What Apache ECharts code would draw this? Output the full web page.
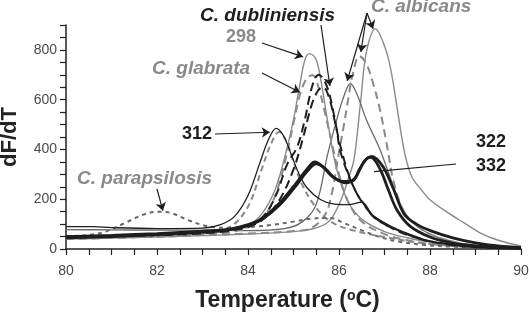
<!DOCTYPE html>
<html>
<head>
<meta charset="utf-8">
<script src="https://cdn.jsdelivr.net/npm/echarts@6/dist/echarts.min.js"></script>
<style>
html, body { margin: 0; padding: 0; background: #fff; }
#chart { width: 529px; height: 318px; }
</style>
</head>
<body>
<div id="chart"></div>
<script>
// melt curves, [temperature, dF/dT]
var paraps = [[80,52],[80.5,56],[80.9,72],[81.3,105],[81.7,138],[82,150],[82.3,145],[82.7,115],[83.1,92],[83.5,85],[84,88],[84.5,96],[85,110],[85.4,122],[85.8,125],[86.1,105],[86.5,75],[86.9,48],[87.3,30],[87.9,16],[88.5,9],[89,6],[90,3]];
var c312Black = [[80,90],[80.6,90],[81,86],[82,82],[83,84],[83.4,98],[83.7,130],[84,215],[84.25,340],[84.45,440],[84.62,485],[84.78,455],[84.95,380],[85.1,310],[85.3,245],[85.6,198],[85.9,180],[86.2,178],[86.5,188],[86.75,135],[87.27,80],[87.7,50],[88,32],[88.6,16],[89.3,7],[90,3]];
var c312Gray = [[80,48],[81,52],[82,58],[83,66],[83.6,88],[84,170],[84.3,320],[84.5,420],[84.68,470],[84.85,430],[85,350],[85.2,255],[85.5,165],[85.8,112],[86.2,80],[87,48],[88,20],[89,8],[90,3]];
var s298 = [[80,45],[81,50],[82,55],[83,62],[83.6,74],[84,95],[84.3,140],[84.6,240],[84.85,400],[85,520],[85.12,640],[85.25,760],[85.35,785],[85.45,775],[85.52,750],[85.6,680],[85.7,570],[85.78,480],[85.95,320],[86.2,190],[86.5,120],[87,70],[87.5,45],[88,28],[89,10],[90,3]];
var glabrata = [[80,40],[82,50],[83,58],[83.8,75],[84.3,120],[84.6,215],[84.85,380],[85,505],[85.15,625],[85.3,688],[85.42,698],[85.55,650],[85.7,540],[85.85,420],[86,300],[86.2,190],[86.5,110],[87,60],[87.5,35],[88,20],[89,8],[90,2]];
var dublinA = [[80,50],[82,58],[83,66],[83.8,82],[84.3,125],[84.6,210],[84.86,340],[85.08,410],[85.25,520],[85.35,610],[85.45,675],[85.55,700],[85.65,685],[85.76,640],[85.85,574],[85.95,481],[86.02,400],[86.2,300],[86.4,220],[86.55,180],[86.75,130],[87,100],[87.3,75],[87.7,45],[88,30],[88.5,15],[89,7],[90,2]];
var dublinB = [[80,46],[82,55],[83,63],[83.8,80],[84.3,115],[84.7,200],[85,320],[85.2,440],[85.4,580],[85.55,640],[85.65,650],[85.78,610],[85.9,520],[86.05,400],[86.25,280],[86.5,190],[86.8,125],[87.2,80],[87.7,45],[88.2,25],[89,8],[90,2]];
var albicansA = [[80,40],[81,44],[82,48],[83,54],[84,60],[85,70],[85.5,85],[85.8,115],[86.05,200],[86.2,280],[86.33,360],[86.48,600],[86.6,790],[86.8,885],[87.03,800],[87.16,700],[87.3,540],[87.45,380],[87.6,290],[87.8,240],[88,198],[88.4,145],[88.75,105],[89.1,65],[89.5,35],[90,12]];
var albicansB = [[80,42],[82,50],[83,56],[84,62],[85,72],[85.4,85],[85.7,140],[85.85,230],[86,390],[86.1,490],[86.2,600],[86.3,700],[86.45,775],[86.6,745],[86.75,665],[86.9,560],[87.05,420],[87.2,270],[87.4,160],[87.6,110],[88,60],[88.5,30],[89,14],[90,4]];
var albicansC = [[80,78],[81,77],[82,76],[83,76],[84,74],[84.8,82],[85.2,110],[85.5,180],[85.75,380],[85.95,520],[86.1,610],[86.25,665],[86.4,620],[86.6,520],[86.9,400],[87.1,300],[87.35,180],[87.6,110],[88,60],[88.5,30],[89,14],[90,4]];
var s322 = [[80,50],[81,55],[82,62],[83,72],[83.6,80],[84,98],[84.3,122],[84.7,186],[85.07,267],[85.3,322],[85.47,350],[85.65,330],[85.85,292],[86.1,272],[86.3,274],[86.45,320],[86.6,362],[86.7,368],[86.9,322],[87.08,240],[87.27,158],[87.56,92],[88,48],[88.44,26],[89,12],[89.5,6],[90,3]];
var s332 = [[80,45],[81,50],[82,58],[83,68],[83.6,78],[84,95],[84.3,118],[84.7,178],[85.07,258],[85.3,312],[85.5,342],[85.7,322],[85.9,285],[86.15,266],[86.35,285],[86.55,350],[86.72,372],[86.97,330],[87.2,240],[87.43,141],[87.7,100],[88.02,73],[88.5,45],[89,25],[89.5,12],[90,5]];

// axis labels
var xTickLabels = [80, 82, 84, 86, 88, 90];
var yTickLabels = [0, 200, 400, 600, 800];

var FONT = '"Liberation Sans", Arial, sans-serif';
var GRAY = '#8a8a8a';
var BLACK = '#1e1e1e';

function line(name, data, color, width, dash) {
  return {
    name: name,
    type: 'line',
    data: data,
    smooth: 0.35,
    symbol: 'none',
    silent: true,
    lineStyle: { color: color, width: width, type: dash || 'solid' }
  };
}

var myChart = echarts.init(document.getElementById('chart'));

var option = {
  backgroundColor: '#fff',
  animation: false,
  grid: { left: 66, right: 8, top: 25, bottom: 69, containLabel: false, outerBoundsMode: 'none' },
  xAxis: {
    type: 'value',
    min: 80,
    max: 90,
    interval: 0.5,
    name: 'Temperature ({sup|o}C)',
    nameLocation: 'middle',
    nameGap: 40,
    nameTextStyle: {
      color: '#222', fontSize: 23, fontWeight: 'bold', fontFamily: FONT,
      padding: [0, 12, 0, 0],
      rich: { sup: { fontSize: 14, fontWeight: 'bold', fontFamily: FONT, color: '#222', verticalAlign: 'top', padding: [0, 0, 10, 0] } }
    },
    axisLine: { lineStyle: { color: '#222', width: 1.5 } },
    axisTick: { length: 6, lineStyle: { color: '#222', width: 1.2 } },
    splitLine: { show: false },
    axisLabel: {
      color: '#4a4a4a', fontSize: 14, fontFamily: FONT, margin: 15,
      formatter: function (v) { return xTickLabels.indexOf(v) >= 0 ? String(v) : ''; }
    }
  },
  yAxis: {
    type: 'value',
    min: 0,
    max: 900,
    interval: 50,
    name: 'dF/dT',
    nameLocation: 'middle',
    nameGap: 45,
    nameTextStyle: { color: '#222', fontSize: 22, fontWeight: 'bold', fontFamily: FONT },
    axisLine: { show: true, lineStyle: { color: '#222', width: 1.5 } },
    axisTick: { show: true, length: 6, lineStyle: { color: '#222', width: 1.2 } },
    splitLine: { show: false },
    axisLabel: {
      color: '#4a4a4a', fontSize: 14, fontFamily: FONT, margin: 9,
      formatter: function (v) { return yTickLabels.indexOf(v) >= 0 ? String(v) : ''; }
    }
  },
  series: [
    line('albicansA', albicansA, GRAY, 1.4),
    line('albicansC', albicansC, '#6a6a6a', 1.3),
    line('albicansB', albicansB, GRAY, 2, [8, 5]),
    line('298', s298, GRAY, 1.4),
    line('glabrata', glabrata, GRAY, 2, [8, 5]),
    line('312g', c312Gray, GRAY, 2, [6, 4]),
    line('parapsilosis', paraps, '#666', 2, [4, 4]),
    line('dublinB', dublinB, BLACK, 2, [9, 5]),
    line('dublinA', dublinA, BLACK, 2, [9, 5]),
    line('312', c312Black, BLACK, 1.3),
    line('322', s322, BLACK, 2.8),
    line('332', s332, BLACK, 2.8),
    {
      // annotation arrows
      type: 'line',
      data: [],
      clip: false,
      silent: true,
      markLine: {
        silent: true,
        animation: false,
        symbolSize: 8,
        label: { show: false },
        lineStyle: { color: BLACK, width: 1.2, type: 'solid' },
        data: [
          [{ x: 262, y: 43, symbol: 'none' }, { coord: [85.21, 772], symbol: 'arrow' }],
          [{ x: 262, y: 73, symbol: 'none' }, { coord: [85.14, 630], symbol: 'arrow' }],
          [{ x: 321, y: 25, symbol: 'none' }, { coord: [85.8, 655], symbol: 'arrow' }],
          [{ x: 367, y: 13, symbol: 'none' }, { coord: [86.75, 885], symbol: 'arrow' }],
          [{ x: 367, y: 13, symbol: 'none' }, { coord: [86.48, 792], symbol: 'arrow' }],
          [{ x: 367, y: 13, symbol: 'none' }, { coord: [86.18, 675], symbol: 'arrow' }],
          [{ x: 215, y: 134, symbol: 'none' }, { coord: [84.48, 469], symbol: 'arrow' }],
          [{ x: 157, y: 189, symbol: 'none' }, { coord: [82.13, 154], symbol: 'arrow' }],
          [{ x: 456, y: 164, symbol: 'none' }, { coord: [86.77, 311], symbol: 'none' }]
        ]
      }
    }
  ],
  graphic: [
    { type: 'text', left: 200, top: 6, style: { text: 'C. dubliniensis', font: 'italic bold 19px ' + FONT, fill: BLACK } },
    { type: 'text', left: 226, top: 28, style: { text: '298', font: 'bold 18px ' + FONT, fill: GRAY } },
    { type: 'text', left: 152, top: 59, style: { text: 'C. glabrata', font: 'italic bold 19px ' + FONT, fill: GRAY } },
    { type: 'text', left: 182, top: 125, style: { text: '312', font: 'bold 18px ' + FONT, fill: BLACK } },
    { type: 'text', left: 371, top: -3, style: { text: 'C. albicans', font: 'italic bold 19px ' + FONT, fill: GRAY } },
    { type: 'text', left: 77, top: 169, style: { text: 'C. parapsilosis', font: 'italic bold 19px ' + FONT, fill: GRAY } },
    { type: 'text', left: 476, top: 133, style: { text: '322', font: 'bold 18px ' + FONT, fill: BLACK } },
    { type: 'text', left: 476, top: 157, style: { text: '332', font: 'bold 18px ' + FONT, fill: BLACK } }
  ]
};

myChart.setOption(option);
</script>
</body>
</html>
